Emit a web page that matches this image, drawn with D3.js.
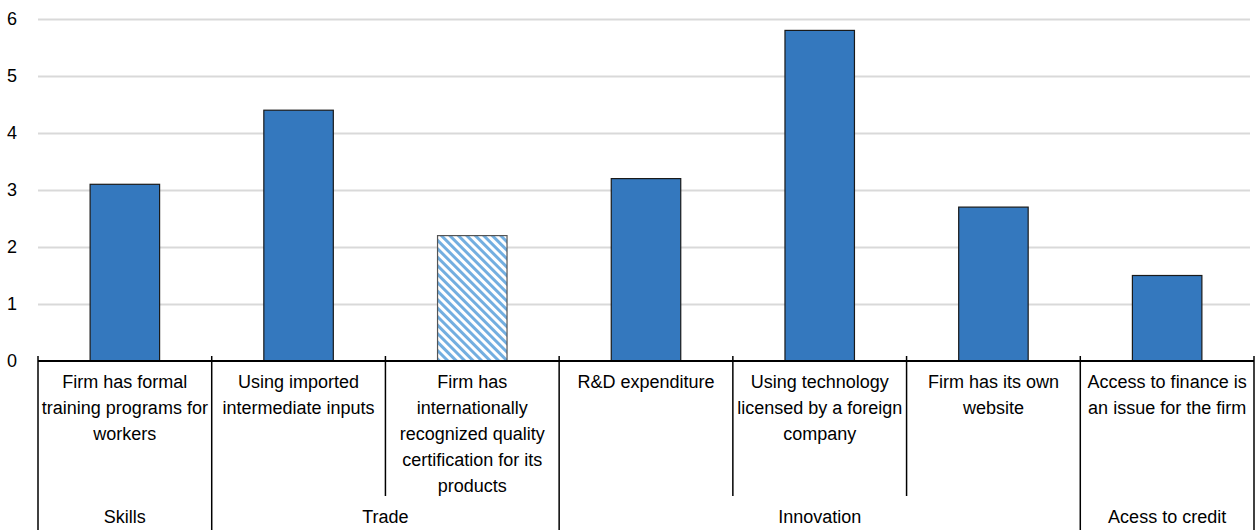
<!DOCTYPE html>
<html>
<head>
<meta charset="utf-8">
<script src="https://cdn.jsdelivr.net/npm/d3@7"></script>
<style>
  html, body { margin: 0; padding: 0; background: #fff; }
  svg { display: block; font-family: "Liberation Sans", Arial, Helvetica, sans-serif; }
</style>
</head>
<body>
<svg id="chart" width="1255" height="530"></svg>
<script>
// Firm characteristics, grouped by policy area
const categories = [
  ["Firm has formal", "training programs for", "workers"],
  ["Using imported", "intermediate inputs"],
  ["Firm has", "internationally", "recognized quality", "certification for its", "products"],
  ["R&D expenditure"],
  ["Using technology", "licensed by a foreign", "company"],
  ["Firm has its own", "website"],
  ["Access to finance is", "an issue for the firm"]
];
const values = [3.1, 4.4, 2.2, 3.2, 5.8, 2.7, 1.5];
const hatched = [false, false, true, false, false, false, false];
const groupNames = ["Skills", "Trade", "Innovation", "Acess to credit"];
const groupSizes = [1, 2, 3, 1];
const yTicks = [0, 1, 2, 3, 4, 5, 6];

const svg = d3.select("#chart");
const plotLeft = 38, plotRight = 1254, plotTop = 19, base = 361;

const keys = categories.map((c, i) => i);
const x = d3.scaleBand().domain(keys).range([plotLeft, plotRight]).paddingInner(0.6).paddingOuter(0.3);
const step = x.step();
const y = d3.scaleLinear().domain([0, 6]).range([base, plotTop]);

// hatch pattern for the highlighted bar
const defs = svg.append("defs");
const pat = defs.append("pattern")
  .attr("id", "hatch").attr("patternUnits", "userSpaceOnUse")
  .attr("width", 6).attr("height", 6)
  .attr("patternTransform", "rotate(-45)");
pat.append("rect").attr("width", 6).attr("height", 6).attr("fill", "#ffffff");
pat.append("rect").attr("width", 3).attr("height", 6).attr("fill", "#72aee0");

// gridlines and y labels
const yAxis = d3.axisLeft(y).tickValues(yTicks.filter(v => v > 0)).tickSize(-(1250 - plotLeft)).tickFormat(d3.format("d"));
const gy = svg.append("g").attr("transform", `translate(${plotLeft},0)`).call(yAxis);
gy.select(".domain").remove();
gy.selectAll(".tick line").attr("stroke", "#d9d9d9").attr("stroke-width", 2);
gy.selectAll(".tick text").attr("x", -26).attr("text-anchor", "middle")
  .attr("font-size", 18).attr("fill", "#000").attr("font-family", "Liberation Sans, Arial, sans-serif");
svg.append("text").attr("x", 12).attr("y", y(0)).attr("dy", "0.32em")
  .attr("text-anchor", "middle").attr("font-size", 18).text("0");

// bars
svg.append("g").selectAll("rect").data(values).join("rect")
  .attr("x", (d, i) => x(i))
  .attr("y", d => y(d))
  .attr("width", x.bandwidth())
  .attr("height", d => y(0) - y(d))
  .attr("fill", (d, i) => hatched[i] ? "url(#hatch)" : "#3478be")
  .attr("stroke", (d, i) => hatched[i] ? "#555" : "#1a1a1a")
  .attr("stroke-width", 1.2);

// baseline
svg.append("line").attr("x1", plotLeft).attr("x2", plotRight).attr("y1", base).attr("y2", base)
  .attr("stroke", "#000").attr("stroke-width", 2);

// separators: long ones between groups, shorter ones inside groups
const groupStarts = [];
let acc = 0;
groupSizes.forEach(s => { groupStarts.push(acc); acc += s; });
const bounds = d3.range(categories.length + 1);
svg.append("g").selectAll("line").data(bounds).join("line")
  .attr("x1", i => plotLeft + i * step).attr("x2", i => plotLeft + i * step)
  .attr("y1", base - 5)
  .attr("y2", i => (groupStarts.includes(i) || i === categories.length) ? 530 : 496)
  .attr("stroke", "#000").attr("stroke-width", 1.5);

// category labels
const lab = svg.append("g").attr("font-size", 18).attr("fill", "#000").attr("text-anchor", "middle");
categories.forEach((lines, i) => {
  const cx = x(i) + x.bandwidth() / 2;
  const t = lab.append("text").attr("x", cx).attr("y", 388);
  lines.forEach((ln, j) => {
    t.append("tspan").attr("x", cx).attr("y", 388 + j * 26).text(ln);
  });
});

// group labels
svg.append("g").attr("font-size", 18).attr("text-anchor", "middle")
  .selectAll("text").data(groupNames).join("text")
  .attr("x", (d, i) => plotLeft + (groupStarts[i] + groupSizes[i] / 2) * step)
  .attr("y", 523)
  .text(d => d);
</script>
</body>
</html>
